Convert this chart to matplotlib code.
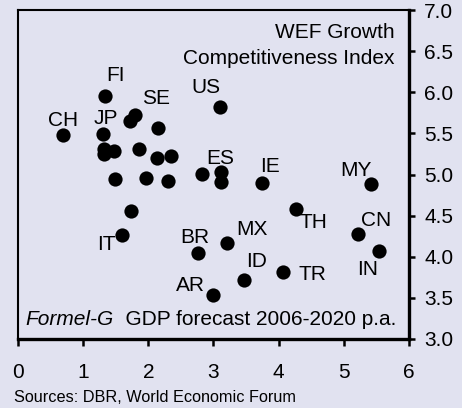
import matplotlib
matplotlib.use("Agg")
import matplotlib.pyplot as plt

plt.rcParams['font.family'] = ['Liberation Sans', 'DejaVu Sans']

# GDP forecast 2006-2020 p.a. (x) vs WEF Growth Competitiveness Index (y)
countries = ['CH', 'FI', 'JP', 'SE', 'US', 'ES', 'IE', 'MY', 'IT', 'BR', 'AR',
             'MX', 'ID', 'TR', 'TH', 'CN', 'IN']
gdp = [0.69, 1.34, 1.31, 1.79, 3.10, 3.12, 3.75, 5.42, 1.60, 2.76, 3.00,
       3.21, 3.47, 4.07, 4.26, 5.22, 5.54]
gci = [5.48, 5.95, 5.49, 5.72, 5.82, 5.03, 4.90, 4.88, 4.27, 4.05, 3.53,
       4.17, 3.72, 3.82, 4.58, 4.28, 4.07]

# countries without a label
gdp_other = [1.72, 1.32, 1.32, 1.48, 1.85, 2.15, 2.13, 2.35, 1.49, 1.96, 2.30,
             2.82, 3.12, 1.73]
gci_other = [5.65, 5.31, 5.25, 5.28, 5.31, 5.56, 5.20, 5.23, 4.95, 4.96, 4.92,
             5.01, 4.91, 4.56]

xticks = [0, 1, 2, 3, 4, 5, 6]
yticks = [3.0, 3.5, 4.0, 4.5, 5.0, 5.5, 6.0, 6.5, 7.0]

# label offsets in pixels (dx, dy)
offs = {'CH': (0, 9), 'FI': (10, 15), 'JP': (2, 10), 'SE': (21, 11),
        'US': (-14, 14), 'ES': (-1, 8), 'IE': (8, 11), 'MY': (-15, 8),
        'IT': (-16, -15), 'BR': (-3, 10), 'AR': (-23, 4), 'MX': (25, 8),
        'ID': (12, 13), 'TR': (29, -8), 'TH': (18, -19), 'CN': (18, 8),
        'IN': (-11, -24)}

fs = 15
bg = '#e1e2f0'
fig = plt.figure(figsize=(4.62, 4.08), dpi=100, facecolor=bg)
ax = fig.add_axes([18 / 462, 1 - 339 / 408, 391 / 462, 329 / 408])
ax.set_facecolor(bg)

ax.scatter(gdp_other, gci_other, s=105, color='black', linewidths=0, zorder=3)
ax.scatter(gdp, gci, s=105, color='black', linewidths=0, zorder=3)

for c, xv, yv in zip(countries, gdp, gci):
    dx, dy = offs[c]
    ax.annotate(c, (xv, yv), xytext=(dx, dy), textcoords='offset pixels',
                ha='center', va='baseline', fontsize=fs)

ax.set_xlim(0, 6)
ax.set_ylim(3, 7)
ax.set_xticks(xticks)
ax.set_yticks(yticks)
ax.set_yticklabels(['%.1f' % v for v in yticks])
ax.yaxis.tick_right()
ax.tick_params(axis='x', direction='out', length=5, width=1.8, pad=12, labelsize=fs)
ax.tick_params(axis='y', direction='out', length=4, width=1.8, pad=7, labelsize=fs)

for side in ['left', 'top']:
    ax.spines[side].set_linewidth(1.5)
for side in ['right', 'bottom']:
    ax.spines[side].set_linewidth(2.4)

ax.text(0.962, 0.914, 'WEF Growth', transform=ax.transAxes, ha='right',
        va='baseline', fontsize=fs)
ax.text(0.962, 0.835, 'Competitiveness Index', transform=ax.transAxes, ha='right',
        va='baseline', fontsize=fs)

t1 = ax.text(0.02, 0.03, 'Formel-G', transform=ax.transAxes, ha='left',
             va='bottom', fontsize=fs, style='italic')
ax.annotate('  GDP forecast 2006-2020 p.a.', xy=(1, 0), xycoords=t1,
            ha='left', va='bottom', fontsize=fs)

fig.text(14 / 462, 1 - 398 / 408, 'Sources: DBR, World Economic Forum',
         ha='left', va='center', fontsize=11.7)

fig.savefig('out.png', dpi=100, facecolor=bg)
